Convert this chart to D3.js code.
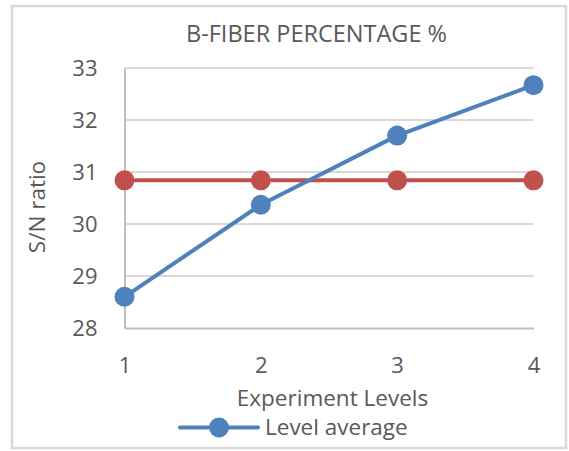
<!DOCTYPE html>
<html>
<head>
<meta charset="utf-8">
<script src="https://cdn.jsdelivr.net/npm/d3@7"></script>
<style>
  body { margin: 0; background: #fff; }
  text { font-family: "Open Sans", sans-serif; fill: #595959; }
</style>
</head>
<body>
<div id="chart"></div>
<script>
const levels = [1, 2, 3, 4];
const levelAverage = [28.6, 30.37, 31.7, 32.67];
const overallMean = [30.84, 30.84, 30.84, 30.84];
const yTicks = [28, 29, 30, 31, 32, 33];

const width = 569, height = 451;
const margin = { top: 68, right: 35.5, bottom: 123, left: 124.5 };

const svg = d3.select("#chart").append("svg")
  .attr("width", width)
  .attr("height", height);

// marco del gráfico
svg.append("rect")
  .attr("x", 12).attr("y", 6)
  .attr("width", 554).attr("height", 442)
  .attr("fill", "#fff")
  .attr("stroke", "#d9d9d9")
  .attr("stroke-width", 2.5);

const x = d3.scaleLinear().domain([1, 4]).range([margin.left, width - margin.right]);
const y = d3.scaleLinear().domain([28, 33]).range([height - margin.bottom, margin.top]);

// líneas de cuadrícula
svg.append("g")
  .selectAll("line")
  .data(yTicks.slice(1))
  .enter()
  .append("line")
  .attr("x1", x(1)).attr("x2", x(4))
  .attr("y1", d => y(d)).attr("y2", d => y(d))
  .attr("stroke", "#d9d9d9")
  .attr("stroke-width", 2);

// ejes
const yAxis = svg.append("g")
  .attr("transform", `translate(${x(1)},0)`)
  .call(d3.axisLeft(y).tickValues(yTicks).tickFormat(d3.format("d")).tickSize(0).tickPadding(27));
yAxis.select(".domain").attr("stroke", "#bfbfbf").attr("stroke-width", 2);
yAxis.selectAll("text").style("font-size", "22px").attr("fill", "#595959");

const xAxis = svg.append("g")
  .attr("transform", `translate(0,${y(28)})`)
  .call(d3.axisBottom(x).tickValues(levels).tickFormat(d3.format("d")).tickSize(0).tickPadding(29));
xAxis.select(".domain").attr("stroke", "#bfbfbf").attr("stroke-width", 2);
xAxis.selectAll("text").style("font-size", "22px").attr("fill", "#595959");

// series
const line = d3.line().x((d, i) => x(levels[i])).y(d => y(d));

const series = [
  { values: overallMean, color: "#c0504d" },
  { values: levelAverage, color: "#4f81bd" }
];

series.forEach(s => {
  svg.append("path")
    .datum(s.values)
    .attr("d", line)
    .attr("fill", "none")
    .attr("stroke", s.color)
    .attr("stroke-width", 4)
    .attr("stroke-linejoin", "round");
  svg.append("g")
    .selectAll("circle")
    .data(s.values)
    .enter()
    .append("circle")
    .attr("cx", (d, i) => x(levels[i]))
    .attr("cy", d => y(d))
    .attr("r", 10)
    .attr("fill", s.color);
});

// títulos
svg.append("text")
  .attr("x", 316.5).attr("y", 42)
  .attr("text-anchor", "middle")
  .style("font-size", "23.5px")
  .text("B-FIBER PERCENTAGE %");

svg.append("text")
  .attr("transform", `translate(45,207) rotate(-90)`)
  .attr("text-anchor", "middle")
  .style("font-size", "22.5px")
  .text("S/N ratio");

svg.append("text")
  .attr("x", 332.5).attr("y", 405.5)
  .attr("text-anchor", "middle")
  .style("font-size", "22.5px")
  .text("Experiment Levels");

// leyenda
const legend = svg.append("g").attr("transform", "translate(180,427.5)");
legend.append("line")
  .attr("x1", 0).attr("x2", 78)
  .attr("stroke", "#4f81bd").attr("stroke-width", 4).attr("stroke-linecap", "round");
legend.append("circle").attr("cx", 39).attr("r", 10).attr("fill", "#4f81bd");
legend.append("text")
  .attr("x", 85).attr("y", 7)
  .style("font-size", "22.5px")
  .text("Level average");
</script>
</body>
</html>
